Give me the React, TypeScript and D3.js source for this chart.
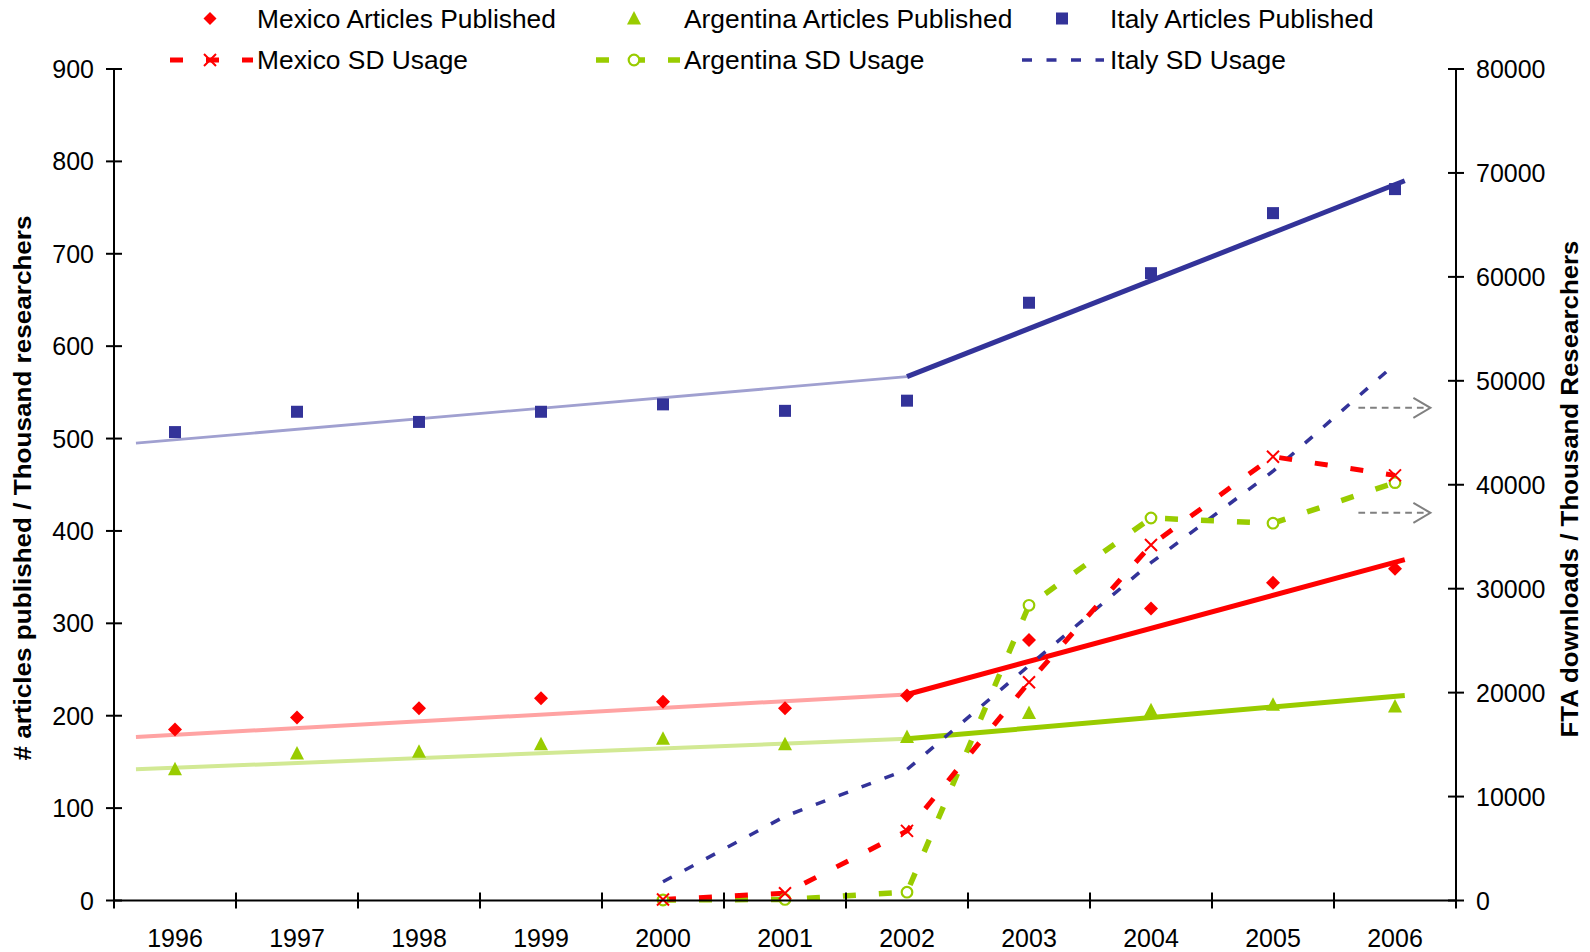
import React from "react";
import * as d3 from "d3";

// ---------- data ----------
const years = [1996, 1997, 1998, 1999, 2000, 2001, 2002, 2003, 2004, 2005, 2006];
const mexicoArticles = [185, 198, 208, 219, 215, 208, 222, 282, 316, 344, 359];
const argentinaArticles = [142, 159, 161, 169, 175, 169, 177, 203, 206, 212, 210];
const italyArticles = [507, 529, 518, 529, 537, 530, 541, 647, 679, 744, 770];

const sdYears = [2000, 2001, 2002, 2003, 2004, 2005, 2006];
const mexicoSD = [100, 700, 6700, 21000, 34200, 42700, 40900];
const argentinaSD = [50, 100, 800, 28400, 36800, 36300, 40200];
const italySD = [1800, 8100, 12600, 22600, 32500, 41300, 51600];

// trend lines (fitted segments as drawn in the source)
const trendEarlyYears = [1995.68, 2002];
const trendLateYears = [2002, 2006.08];
const mexicoTrendEarly = [177, 223];
const mexicoTrendLate = [223, 369];
const argentinaTrendEarly = [142, 175];
const argentinaTrendLate = [175, 222];
const italyTrendEarly = [495, 567];
const italyTrendLate = [567, 779];

// arrows pointing to the right axis
const arrowYears = [2005.7, 2006.29];
const arrowValues = [47400, 37300];

const leftTicks = [0, 100, 200, 300, 400, 500, 600, 700, 800, 900];
const rightTicks = [0, 10000, 20000, 30000, 40000, 50000, 60000, 70000, 80000];
const yearBoundaries = [1995.5, 1996.5, 1997.5, 1998.5, 1999.5, 2000.5, 2001.5, 2002.5, 2003.5, 2004.5, 2005.5, 2006.5];

const RED = "#FF0000";
const GREEN = "#99CC00";
const BLUE = "#333399";
const FONT = "'Liberation Sans', Arial, Helvetica, sans-serif";

export default function App() {
  const W = 1590, H = 952;
  const x0 = 114, x1 = 1456, yTop = 69, yBot = 900.5;
  const x = d3.scaleLinear().domain([1995.5, 2006.5]).range([x0, x1]);
  const yL = d3.scaleLinear().domain([0, 900]).range([yBot, yTop]);
  const yR = d3.scaleLinear().domain([0, 80000]).range([yBot, yTop]);

  const lineL = (xs: number[], vs: number[]) =>
    d3.line<number>().x((_, i) => x(xs[i])).y((d) => yL(d))(vs) || "";
  const lineR = (xs: number[], vs: number[]) =>
    d3.line<number>().x((_, i) => x(xs[i])).y((d) => yR(d))(vs) || "";

  const diamond = (cx: number, cy: number, r = 7) =>
    `M${cx},${cy - r}L${cx + r},${cy}L${cx},${cy + r}L${cx - r},${cy}Z`;
  const triangle = (cx: number, cy: number) =>
    `M${cx},${cy - 7.5}L${cx + 7},${cy + 6}L${cx - 7},${cy + 6}Z`;
  const cross = (cx: number, cy: number, r = 6) =>
    `M${cx - r},${cy - r}L${cx + r},${cy + r}M${cx - r},${cy + r}L${cx + r},${cy - r}`;

  const tickFont = 25;
  const legendText = (tx: number, ty: number, label: string) => (
    <text transform={`translate(${tx},${ty}) scale(1.055,1)`} dy="0.36em" fontSize={25}>{label}</text>
  );

  return (
    <svg width={W} height={H} style={{ position: "absolute", left: 0, top: 0, background: "#fff" }} fontFamily={FONT}>
      <rect x={0} y={0} width={W} height={H} fill="#fff" />

      {/* trend lines early (thin, light) */}
      <path d={lineL(trendEarlyYears, italyTrendEarly)} stroke="#A0A0D0" strokeWidth={2.8} fill="none" />
      <path d={lineL(trendEarlyYears, mexicoTrendEarly)} stroke="#FFA3A3" strokeWidth={4} fill="none" />
      <path d={lineL(trendEarlyYears, argentinaTrendEarly)} stroke="#D2E994" strokeWidth={4} fill="none" />
      {/* trend lines late (bold) */}
      <path d={lineL(trendLateYears, italyTrendLate)} stroke={BLUE} strokeWidth={5} fill="none" />
      <path d={lineL(trendLateYears, mexicoTrendLate)} stroke={RED} strokeWidth={5} fill="none" />
      <path d={lineL(trendLateYears, argentinaTrendLate)} stroke={GREEN} strokeWidth={5} fill="none" />

      {/* article markers */}
      {years.map((yr, i) => (
        <rect key={"it" + yr} x={x(yr) - 6} y={yL(italyArticles[i]) - 6} width={12} height={12} fill={BLUE} />
      ))}
      {years.map((yr, i) => (
        <path key={"mx" + yr} d={diamond(x(yr), yL(mexicoArticles[i]))} fill={RED} />
      ))}
      {years.map((yr, i) => (
        <path key={"ar" + yr} d={triangle(x(yr), yL(argentinaArticles[i]))} fill={GREEN} />
      ))}

      {/* SD usage lines */}
      <path d={lineR(sdYears, italySD)} stroke={BLUE} strokeWidth={3.5} strokeDasharray="10,14.5" fill="none" />
      <path d={lineR(sdYears, argentinaSD)} stroke={GREEN} strokeWidth={5.5} strokeDasharray="13,23" fill="none" />
      <path d={lineR(sdYears, mexicoSD)} stroke={RED} strokeWidth={5} strokeDasharray="13,23" fill="none" />
      {sdYears.map((yr, i) => (
        <circle key={"as" + yr} cx={x(yr)} cy={yR(argentinaSD[i])} r={5.3} fill="#fff" stroke={GREEN} strokeWidth={2.2} />
      ))}
      {sdYears.map((yr, i) => (
        <path key={"ms" + yr} d={cross(x(yr), yR(mexicoSD[i]))} stroke={RED} strokeWidth={2} fill="none" />
      ))}

      {/* arrows to right axis */}
      {arrowValues.map((v) => {
        const ax0 = x(arrowYears[0]), ax1 = x(arrowYears[1]), ay = yR(v);
        return (
          <g key={"arr" + v} stroke="#808080" strokeWidth={2} fill="none">
            <line x1={ax0} x2={ax1 - 2} y1={ay} y2={ay} strokeDasharray="6.7,5" />
            <path d={`M${ax1 - 17},${ay - 10}L${ax1},${ay}L${ax1 - 17},${ay + 10}`} />
          </g>
        );
      })}

      {/* axes */}
      <g stroke="#000" strokeWidth={2}>
        <line x1={x0} x2={x0} y1={yTop} y2={yBot} />
        <line x1={x1} x2={x1} y1={yTop} y2={yBot} />
        <line x1={x0} x2={x1} y1={yBot} y2={yBot} />
        {leftTicks.map((t) => (
          <line key={"lt" + t} x1={x0 - 8} x2={x0 + 8} y1={yL(t)} y2={yL(t)} />
        ))}
        {rightTicks.map((t) => (
          <line key={"rt" + t} x1={x1 - 8} x2={x1 + 8} y1={yR(t)} y2={yR(t)} />
        ))}
        {yearBoundaries.map((b) => (
          <line key={"xt" + b} x1={x(b)} x2={x(b)} y1={yBot - 8} y2={yBot + 8} />
        ))}
      </g>
      {leftTicks.map((t) => (
        <text key={"ll" + t} x={94} y={yL(t)} dy="0.36em" textAnchor="end" fontSize={tickFont}>{t}</text>
      ))}
      {rightTicks.map((t) => (
        <text key={"rl" + t} x={1476} y={yR(t)} dy="0.36em" textAnchor="start" fontSize={tickFont}>{t}</text>
      ))}
      {years.map((yr) => (
        <text key={"xl" + yr} x={x(yr)} y={938} dy="0.36em" textAnchor="middle" fontSize={tickFont}>{yr}</text>
      ))}

      {/* axis titles */}
      <text transform="translate(31,488) rotate(-90)" textAnchor="middle" fontSize={24} fontWeight="bold"
        textLength={545} lengthAdjust="spacingAndGlyphs">
        # articles published / Thousand researchers
      </text>
      <text transform="translate(1578,489) rotate(-90)" textAnchor="middle" fontSize={24} fontWeight="bold"
        textLength={497} lengthAdjust="spacingAndGlyphs">
        FTA downloads / Thousand Researchers
      </text>

      {/* legend */}
      <g>
        <path d={diamond(210, 18.5, 6.5)} fill={RED} />
        {legendText(257, 18.5, "Mexico Articles Published")}
        <path d={triangle(634, 18.5)} fill={GREEN} />
        {legendText(684, 18.5, "Argentina Articles Published")}
        <rect x={1056} y={12.5} width={12} height={12} fill={BLUE} />
        {legendText(1110, 18.5, "Italy Articles Published")}

        <line x1={170} x2={253} y1={60} y2={60} stroke={RED} strokeWidth={5} strokeDasharray="13,23" />
        <path d={cross(210, 60)} stroke={RED} strokeWidth={2} fill="none" />
        {legendText(257, 60, "Mexico SD Usage")}
        <line x1={596} x2={680} y1={60} y2={60} stroke={GREEN} strokeWidth={5.5} strokeDasharray="13,23" />
        <circle cx={634} cy={60} r={5.3} fill="#fff" stroke={GREEN} strokeWidth={2.2} />
        {legendText(684, 60, "Argentina SD Usage")}
        <line x1={1022} x2={1104} y1={60} y2={60} stroke={BLUE} strokeWidth={3.5} strokeDasharray="10,14.5" />
        {legendText(1110, 60, "Italy SD Usage")}
      </g>
    </svg>
  );
}
